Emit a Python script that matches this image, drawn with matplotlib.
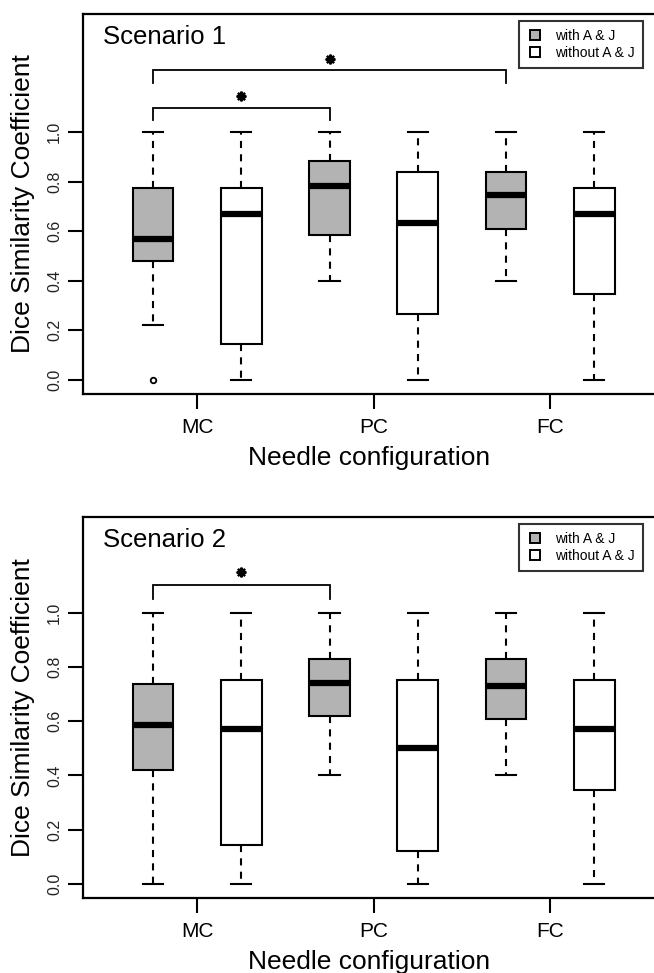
import matplotlib
matplotlib.use("Agg")
import matplotlib.pyplot as plt
from matplotlib.lines import Line2D

plt.rcParams['font.family'] = ['Liberation Sans', 'DejaVu Sans']

# Данные: по 6 боксов на сценарий (MC/PC/FC, с A & J и без)
positions = [1, 2, 3, 4, 5, 6]
group_labels = ['MC', 'PC', 'FC']
group_ticks = [1.5, 3.5, 5.5]
with_aj = [True, False, True, False, True, False]

# Сценарий 1
s1_whislo = [0.22, 0.0, 0.40, 0.0, 0.40, 0.0]
s1_q1 = [0.478, 0.143, 0.584, 0.268, 0.608, 0.345]
s1_med = [0.569, 0.670, 0.784, 0.635, 0.748, 0.670]
s1_q3 = [0.774, 0.774, 0.883, 0.841, 0.841, 0.774]
s1_whishi = [1.0, 1.0, 1.0, 1.0, 1.0, 1.0]
s1_fliers = [[0.0], [], [], [], [], []]
# скобки значимости: (от, до, высота)
s1_brackets = [(1, 5, 1.249), (1, 3, 1.098)]

# Сценарий 2
s2_whislo = [0.0, 0.0, 0.40, 0.0, 0.40, 0.0]
s2_q1 = [0.419, 0.144, 0.618, 0.123, 0.608, 0.345]
s2_med = [0.585, 0.569, 0.739, 0.499, 0.730, 0.569]
s2_q3 = [0.735, 0.750, 0.829, 0.750, 0.829, 0.750]
s2_whishi = [1.0, 1.0, 1.0, 1.0, 1.0, 1.0]
s2_fliers = [[], [], [], [], [], []]
s2_brackets = [(1, 3, 1.101)]

gray = '#b3b3b3'
W, H = 654, 973


def draw_panel(ax, title, whislo, q1, med, q3, whishi, fliers, brackets, ylim_top):
    stats = []
    for i in range(len(positions)):
        stats.append(dict(whislo=whislo[i], q1=q1[i], med=med[i], q3=q3[i],
                          whishi=whishi[i], fliers=fliers[i]))
    bp = ax.bxp(stats, positions=positions, widths=0.46, patch_artist=True,
                showfliers=True,
                boxprops=dict(linewidth=1.5, edgecolor='black'),
                medianprops=dict(linewidth=4.5, color='black', solid_capstyle='butt'),
                whiskerprops=dict(linewidth=1.5, linestyle=(0, (3.4, 3.0)), color='black'),
                capprops=dict(linewidth=1.5, color='black'),
                capwidths=0.23,
                flierprops=dict(marker='o', markersize=4, markerfacecolor='none',
                                markeredgecolor='black', markeredgewidth=1.3))
    for patch, w in zip(bp['boxes'], with_aj):
        patch.set_facecolor(gray if w else 'white')

    # скобки со звёздочками
    for a, b, h in brackets:
        drop = 0.05
        ax.plot([a, a, b, b], [h - drop, h, h, h - drop], color='black', lw=1.3,
                solid_joinstyle='miter')
        ax.plot([(a + b) / 2], [h + 0.048], marker=(8, 2, 0), color='black',
                markersize=7, markeredgewidth=1.6)

    ax.set_xlim(0.206, 6.70)
    rng = ylim_top * 0.04
    ax.set_ylim(-rng, ylim_top + rng)

    ax.set_yticks([0.0, 0.2, 0.4, 0.6, 0.8, 1.0])
    ax.set_yticklabels(['0.0', '0.2', '0.4', '0.6', '0.8', '1.0'], rotation=90,
                       va='center', fontsize=11.5, color='#222222')
    ax.set_xticks(group_ticks)
    ax.set_xticklabels(group_labels, fontsize=15)
    ax.tick_params(axis='both', length=11, width=1.5, direction='out')
    ax.tick_params(axis='y', pad=4)
    ax.tick_params(axis='x', pad=6)
    for sp in ax.spines.values():
        sp.set_linewidth(1.6)

    ax.text(0.035, 0.94, title, transform=ax.transAxes, fontsize=18.5,
            ha='left', va='center')
    ax.text(-0.105, 0.5, 'Dice Similarity Coefficient', transform=ax.transAxes,
            fontsize=19, rotation=90, ha='center', va='center')
    ax.text(0.5, -0.168, 'Needle configuration', transform=ax.transAxes,
            fontsize=19, ha='center', va='center')

    handles = [
        Line2D([], [], marker='s', linestyle='none', markersize=7,
               markerfacecolor=gray, markeredgecolor='black', markeredgewidth=1.4),
        Line2D([], [], marker='s', linestyle='none', markersize=7,
               markerfacecolor='white', markeredgecolor='black', markeredgewidth=1.4),
    ]
    leg = ax.legend(handles, ['with A & J', 'without A & J'], loc='upper right',
                    bbox_to_anchor=(0.977, 0.982), borderaxespad=0, fontsize=10,
                    frameon=True, fancybox=False, edgecolor='black',
                    handlelength=1.2, handletextpad=0.8, labelspacing=0.2,
                    borderpad=0.6)
    leg.get_frame().set_linewidth(1.5)


fig = plt.figure(figsize=(W / 100, H / 100), dpi=100)
left = 83 / W
width = (656 - 83) / W
ax1 = fig.add_axes([left, 1 - 394 / H, width, 380 / H])
ax2 = fig.add_axes([left, 1 - 898 / H, width, 381 / H])

draw_panel(ax1, 'Scenario 1', s1_whislo, s1_q1, s1_med, s1_q3, s1_whishi,
           s1_fliers, s1_brackets, 1.42)
draw_panel(ax2, 'Scenario 2', s2_whislo, s2_q1, s2_med, s2_q3, s2_whishi,
           s2_fliers, s2_brackets, 1.30)

fig.savefig('out.png', dpi=100)
